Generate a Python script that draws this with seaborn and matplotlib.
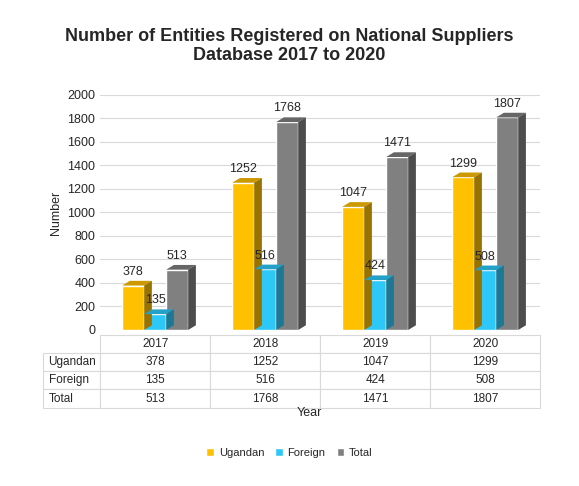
import matplotlib
matplotlib.use("Agg")
import matplotlib.pyplot as plt
import seaborn as sns
import pandas as pd
from matplotlib.patches import Polygon
import matplotlib.colors as mc

years = ["2017", "2018", "2019", "2020"]
ugandan = [378, 1252, 1047, 1299]
foreign = [135, 516, 424, 508]
total = [513, 1768, 1471, 1807]
series = ["Ugandan", "Foreign", "Total"]
colors = ["#FFC000", "#2EC8F8", "#808080"]

df = pd.DataFrame({
    "Year": years * 3,
    "Series": sum([[s] * 4 for s in series], []),
    "Value": ugandan + foreign + total,
})

sns.set_style("white")
plt.rcParams['font.family'] = ['Liberation Sans', 'DejaVu Sans']
fig = plt.figure(figsize=(5.79, 4.86), dpi=100)
ax = fig.add_axes([0.173, 0.321, 0.76, 0.484])
sns.barplot(data=df, x="Year", y="Value", hue="Series", palette=colors,
            width=0.6, ax=ax, legend=False, saturation=1, zorder=3)
ax.set_ylim(0, 2000)
ax.set_yticks(range(0, 2001, 200))
ax.tick_params(axis='y', labelsize=9, length=0)
ax.yaxis.grid(True, color="#d9d9d9", lw=0.8, zorder=0)
for s in ax.spines.values():
    s.set_visible(False)
ax.set_xticks([])
ax.set_xlabel("")
ax.set_ylabel("Number", fontsize=9)

dy = 40
for p in list(ax.patches):
    x, y, w, h = p.get_x(), p.get_y(), p.get_width(), p.get_height()
    if h <= 0:
        continue
    dx = w * 0.35
    c = p.get_facecolor()
    rgb = mc.to_rgb(c)
    dark = tuple(v * 0.6 for v in rgb)
    mid = tuple(v * 0.8 for v in rgb)
    ax.add_patch(Polygon([(x, y + h), (x + dx, y + h + dy), (x + w + dx, y + h + dy), (x + w, y + h)],
                         closed=True, fc=mid, ec="none", zorder=4))
    ax.add_patch(Polygon([(x + w, y), (x + w + dx, y + dy), (x + w + dx, y + h + dy), (x + w, y + h)],
                         closed=True, fc=dark, ec="none", zorder=4))
    ax.text(x + w / 2, y + h + dy + 25, f"{int(round(h))}", ha="center", va="bottom", fontsize=9, zorder=5)

table = ax.table(cellText=[[str(v) for v in ugandan], [str(v) for v in foreign], [str(v) for v in total]],
                 rowLabels=series, colLabels=years, cellLoc="center", rowLoc="left",
                 bbox=[0, -0.33, 1, 0.31])
table.auto_set_font_size(False)
table.set_fontsize(8.5)
for (r, c), cell in table.get_celld().items():
    cell.set_edgecolor("#d9d9d9")
    cell.set_linewidth(0.8)

fig.text(0.535, 0.145, "Year", ha="center", fontsize=9)
fig.text(0.5, 0.905, "Number of Entities Registered on National Suppliers\nDatabase 2017 to 2020",
         ha="center", va="center", fontsize=13, fontweight="bold", linespacing=1.2)

handles = [plt.Rectangle((0, 0), 1, 1, fc=c) for c in colors]
fig.legend(handles, series, loc="center", bbox_to_anchor=(0.5, 0.068), ncol=3, frameon=False,
           fontsize=8, handlelength=0.7, handleheight=0.7, columnspacing=1.0, handletextpad=0.4)

fig.savefig("out.png", dpi=100)
